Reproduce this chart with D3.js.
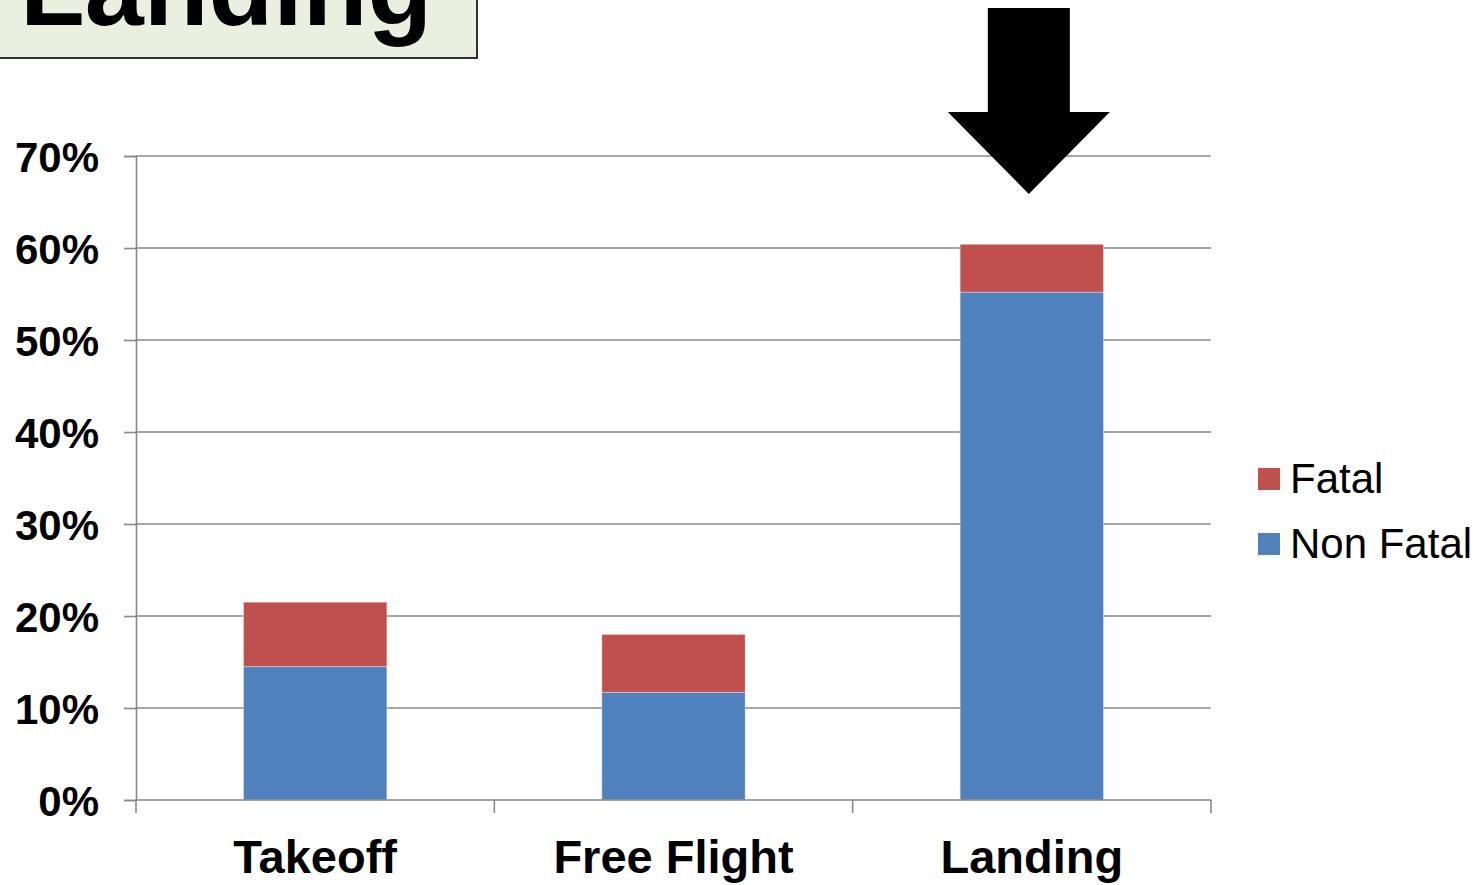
<!DOCTYPE html>
<html>
<head>
<meta charset="utf-8">
<script src="https://cdn.jsdelivr.net/npm/d3@7/dist/d3.min.js"></script>
<style>
  html, body { margin: 0; padding: 0; background: #ffffff; }
  svg { display: block; font-family: Arial, "Liberation Sans", sans-serif; }
</style>
</head>
<body>
<svg id="chart" width="1484" height="885"></svg>
<script>
// Accident share by flight phase, split into fatal and non-fatal
const phases = ["Takeoff", "Free Flight", "Landing"];
const nonFatal = [14.5, 11.7, 55.2];
const fatal = [7.0, 6.3, 5.2];
const seriesNames = ["Fatal", "Non Fatal"];
const seriesColors = ["#C0504D", "#4F81BD"];
const yTicks = [0, 10, 20, 30, 40, 50, 60, 70];
const heading = "Landing";

const svg = d3.select("#chart");
const plot = { left: 136, right: 1211, top: 156, bottom: 800 };

const x = d3.scaleBand().domain(phases).range([plot.left, plot.right])
  .paddingInner(0.6).paddingOuter(0.3);
const y = d3.scaleLinear().domain([0, 70]).range([plot.bottom, plot.top]);
const gridColor = "#898989";

// horizontal gridlines
svg.append("g")
  .selectAll("line")
  .data(yTicks.filter(d => d > 0))
  .join("line")
  .attr("x1", plot.left).attr("x2", plot.right)
  .attr("y1", d => y(d)).attr("y2", d => y(d))
  .attr("stroke", gridColor).attr("stroke-width", 1.6);

// stacked bars
const rows = phases.map((p, i) => ({ phase: p, "Non Fatal": nonFatal[i], "Fatal": fatal[i] }));
const stack = d3.stack().keys(["Non Fatal", "Fatal"])(rows);
const colorOf = d3.scaleOrdinal().domain(seriesNames).range(seriesColors);

svg.append("g")
  .selectAll("g")
  .data(stack)
  .join("g")
  .attr("fill", d => colorOf(d.key))
  .selectAll("rect")
  .data(d => d)
  .join("rect")
  .attr("x", d => x(d.data.phase))
  .attr("width", x.bandwidth())
  .attr("y", d => y(d[1]))
  .attr("height", d => y(d[0]) - y(d[1]))
  .attr("stroke", "rgba(255,255,255,0.35)")
  .attr("stroke-width", 1);

// y axis
const yAxis = svg.append("g")
  .attr("transform", `translate(${plot.left},0)`)
  .call(d3.axisLeft(y).tickValues(yTicks).tickFormat(d => d + "%").tickSize(12).tickPadding(25));
yAxis.select(".domain").attr("stroke", gridColor).attr("stroke-width", 1.6);
yAxis.selectAll(".tick line").attr("stroke", gridColor).attr("stroke-width", 1.6);
yAxis.selectAll(".tick text")
  .attr("font-size", 42).attr("font-weight", "bold").attr("fill", "#000")
  .attr("dy", "0.36em")
  .attr("font-family", "Arial, 'Liberation Sans', sans-serif");

// x axis with boundary ticks between categories
const xAxisG = svg.append("g").attr("transform", `translate(0,${plot.bottom})`);
xAxisG.append("line")
  .attr("x1", plot.left).attr("x2", plot.right)
  .attr("stroke", gridColor).attr("stroke-width", 1.6);
const boundaries = d3.range(phases.length + 1).map(i => plot.left + i * (plot.right - plot.left) / phases.length);
xAxisG.selectAll(".bound")
  .data(boundaries)
  .join("line")
  .attr("class", "bound")
  .attr("x1", d => d).attr("x2", d => d)
  .attr("y1", 0).attr("y2", 13)
  .attr("stroke", gridColor).attr("stroke-width", 1.6);
xAxisG.selectAll(".lbl")
  .data(phases)
  .join("text")
  .attr("class", "lbl")
  .attr("x", d => x(d) + x.bandwidth() / 2)
  .attr("y", 73)
  .attr("text-anchor", "middle")
  .attr("font-size", 47).attr("font-weight", "bold").attr("fill", "#000")
  .text(d => d);

// legend
const legend = svg.append("g").attr("transform", "translate(1258,0)");
const legendY = [479, 544];
seriesNames.forEach((name, i) => {
  legend.append("rect")
    .attr("x", 0).attr("y", legendY[i] - 11)
    .attr("width", 22).attr("height", 22)
    .attr("fill", seriesColors[i]);
  legend.append("text")
    .attr("x", 32).attr("y", legendY[i] + 14)
    .attr("font-size", 42).attr("fill", "#000")
    .text(name);
});

// heading box in the top-left corner
svg.append("rect")
  .attr("x", -2).attr("y", -10)
  .attr("width", 479).attr("height", 68)
  .attr("fill", "#EBEFDF").attr("stroke", "#1a1a1a").attr("stroke-width", 1.8);
svg.append("text")
  .attr("x", 20).attr("y", 25)
  .attr("font-size", 106).attr("font-weight", "bold").attr("fill", "#000")
  .text(heading);

// downward arrow pointing at the landing bar
const ax = x("Landing") + x.bandwidth() / 2 - 3;
const arrow = [
  [ax - 41, 8], [ax + 41, 8], [ax + 41, 112], [ax + 81, 112],
  [ax, 194], [ax - 81, 112], [ax - 41, 112]
];
svg.append("path")
  .attr("d", d3.line()(arrow) + "Z")
  .attr("fill", "#000");
</script>
</body>
</html>
